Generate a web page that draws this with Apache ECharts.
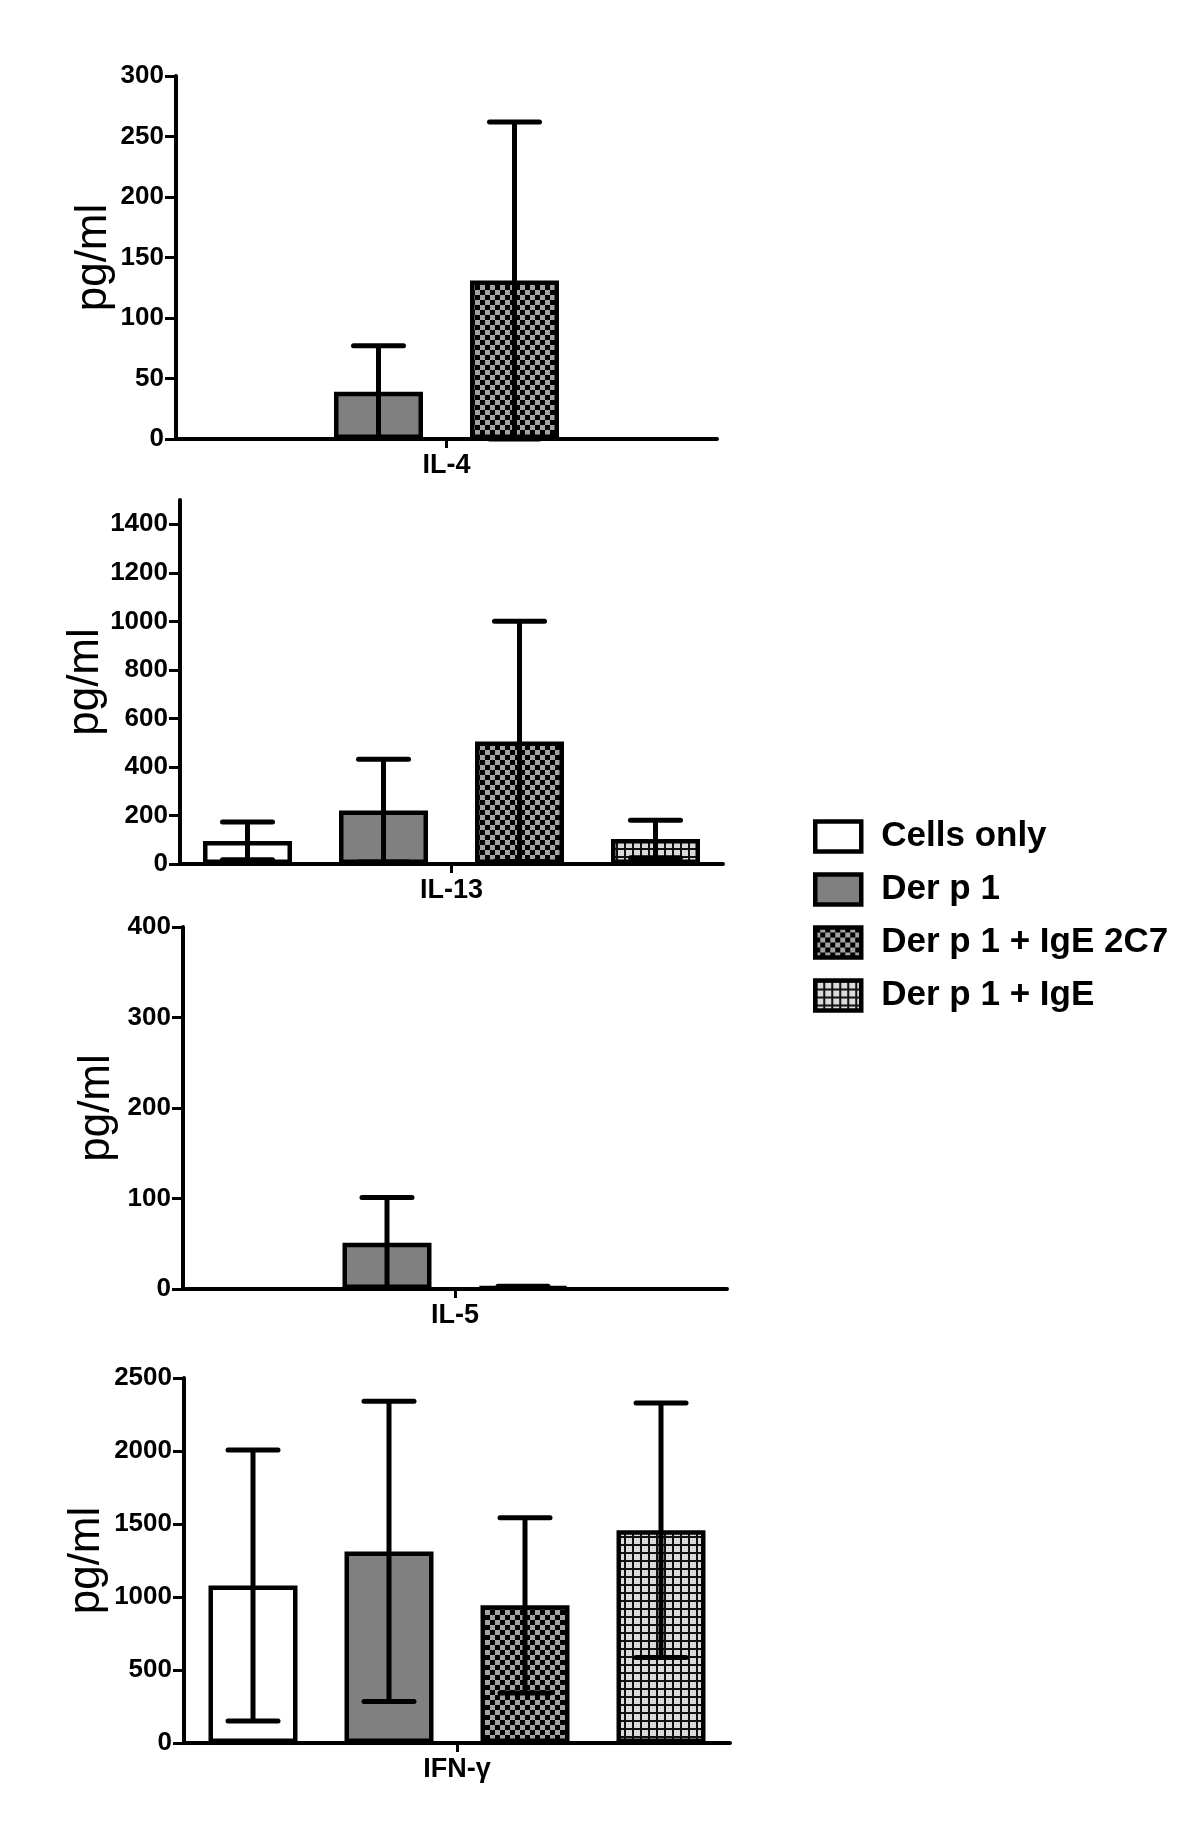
<!DOCTYPE html>
<html><head><meta charset="utf-8">
<script src="https://cdn.jsdelivr.net/npm/echarts@6/dist/echarts.min.js"></script>
<style>html,body{margin:0;padding:0;background:#fff}#c{width:1200px;height:1837px}</style>
</head><body><div id="c"></div>
<script>
// ---- data ----
const groups = ['Cells only', 'Der p 1', 'Der p 1 + IgE 2C7', 'Der p 1 + IgE'];
const panels = ['IL-4', 'IL-13', 'IL-5', 'IFN-γ'];
const il4Mean  = [0, 39, 131, 0];
const il4Sd    = [0, 38, 131, 0];
const il13Mean = [95, 220, 505, 103];
const il13Sd   = [78, 212, 495, 77];
const il5Mean  = [0, 51, 2, 0];
const il5Sd    = [0, 50, 1, 0];
const ifngMean = [1078, 1312, 943, 1457];
const ifngSd   = [928, 1028, 600, 872];
const yMax  = [300, 1500, 400, 2500];
const yStep = [50, 200, 100, 500];
const il4Ticks  = [0, 50, 100, 150, 200, 250, 300];
const il13Ticks = [0, 200, 400, 600, 800, 1000, 1200, 1400];
const il5Ticks  = [0, 100, 200, 300, 400];
const ifngTicks = [0, 500, 1000, 1500, 2000, 2500];
const yTitle = 'pg/ml';

const means = [il4Mean, il13Mean, il5Mean, ifngMean];
const sds = [il4Sd, il13Sd, il5Sd, ifngSd];
const ticks = [il4Ticks, il13Ticks, il5Ticks, ifngTicks];

// ---- layout / style ----
const FONT = '"Liberation Sans", Arial, sans-serif';
const gridBoxes = [
  {left: 176, top: 76, width: 541, height: 363},
  {left: 180, top: 500, width: 543, height: 364},
  {left: 183, top: 927, width: 544, height: 362},
  {left: 184, top: 1378, width: 546, height: 365}
];
const nameGaps = [60, 72, 64, 75];
const BAR_W = 89, BAR_PITCH = 136, CAP_W = 50;

function makeChecker() {
  const c = document.createElement('canvas'); c.width = c.height = 10;
  const x = c.getContext('2d');
  x.fillStyle = '#a3a3a3'; x.fillRect(0, 0, 10, 10);
  x.fillStyle = '#000'; x.fillRect(0, 0, 5, 5); x.fillRect(5, 5, 5, 5);
  return c;
}
function makeGrid() {
  const c = document.createElement('canvas'); c.width = c.height = 8;
  const x = c.getContext('2d');
  x.fillStyle = '#dadada'; x.fillRect(0, 0, 8, 8);
  x.fillStyle = '#111'; x.fillRect(0, 0, 8, 2); x.fillRect(0, 0, 2, 8);
  return c;
}
const fills = ['#ffffff', '#808080',
  {image: makeChecker(), repeat: 'repeat'},
  {image: makeGrid(), repeat: 'repeat'}];

const grid = [], xAxis = [], yAxis = [], series = [];
panels.forEach((p, i) => {
  grid.push(Object.assign({containLabel: false, outerBoundsMode: 'none'}, gridBoxes[i]));
  xAxis.push({
    type: 'category', gridIndex: i, data: [p],
    axisLine: {show: true, lineStyle: {color: '#000', width: 4}},
    axisTick: {show: true, alignWithLabel: true, length: 9, lineStyle: {color: '#000', width: 3}},
    axisLabel: {color: '#000', fontFamily: FONT, fontWeight: 'bold', fontSize: 27, margin: 13},
    splitLine: {show: false}
  });
  yAxis.push({
    type: 'value', gridIndex: i, min: 0, max: yMax[i], interval: yStep[i],
    name: yTitle, nameLocation: 'middle', nameGap: nameGaps[i], nameRotate: 90, nameMoveOverlap: false,
    nameTextStyle: {color: '#000', fontFamily: FONT, fontSize: 44, fontWeight: 'normal'},
    axisLine: {show: true, lineStyle: {color: '#000', width: 4}},
    axisTick: {show: true, inside: false, length: 11, lineStyle: {color: '#000', width: 3}, customValues: ticks[i]},
    axisLabel: {color: '#000', fontFamily: FONT, fontWeight: 'bold', fontSize: 26, margin: 12,
      customValues: ticks[i], formatter: v => String(v)},
    splitLine: {show: false}
  });
  groups.forEach((g, k) => {
    const v = means[i][k];
    series.push({
      type: 'bar', name: g, xAxisIndex: i, yAxisIndex: i,
      data: [v > 0 ? v : null],
      barWidth: BAR_W, barGap: ((BAR_PITCH - BAR_W) / BAR_W * 100) + '%',
      itemStyle: {color: fills[k], borderColor: '#000', borderWidth: 4.5},
      emphasis: {disabled: true}, z: 2
    });
  });
  const errRows = [];
  groups.forEach((g, k) => { if (sds[i][k] > 0) errRows.push([0, means[i][k], sds[i][k], k]); });
  series.push({
    type: 'custom', name: 'err' + i, xAxisIndex: i, yAxisIndex: i, z: 5,
    encode: {x: 0, y: 1}, data: errRows, silent: true,
    renderItem: function (params, api) {
      const cat = api.value(0), mean = api.value(1), sd = api.value(2), slot = api.value(3);
      const base = api.coord([cat, mean]);
      const hi = api.coord([cat, mean + sd]);
      const lo = api.coord([cat, Math.max(0, mean - sd)]);
      const x = base[0] + (slot - 1.5) * BAR_PITCH;
      const h = CAP_W / 2;
      const st = {stroke: '#000', lineWidth: 5, lineCap: 'round'};
      return {type: 'group', children: [
        {type: 'line', shape: {x1: x, y1: hi[1], x2: x, y2: lo[1]}, style: {stroke: '#000', lineWidth: 5}},
        {type: 'line', shape: {x1: x - h, y1: hi[1], x2: x + h, y2: hi[1]}, style: st},
        {type: 'line', shape: {x1: x - h, y1: lo[1], x2: x + h, y2: lo[1]}, style: st}
      ]};
    }
  });
});

const chart = echarts.init(document.getElementById('c'), null, {renderer: 'canvas'});
chart.setOption({
  animation: false,
  backgroundColor: '#fff',
  grid, xAxis, yAxis, series,
  legend: {
    data: groups, orient: 'vertical', left: 813, top: 819, padding: 0,
    itemWidth: 46, itemHeight: 30, itemGap: 18, icon: 'rect',
    itemStyle: {borderColor: '#000', borderWidth: 4.5},
    textStyle: {color: '#000', fontFamily: FONT, fontWeight: 'bold', fontSize: 35, lineHeight: 30, padding: [0, 0, 0, 15]},
    selectedMode: false
  }
});
</script>
</body></html>
